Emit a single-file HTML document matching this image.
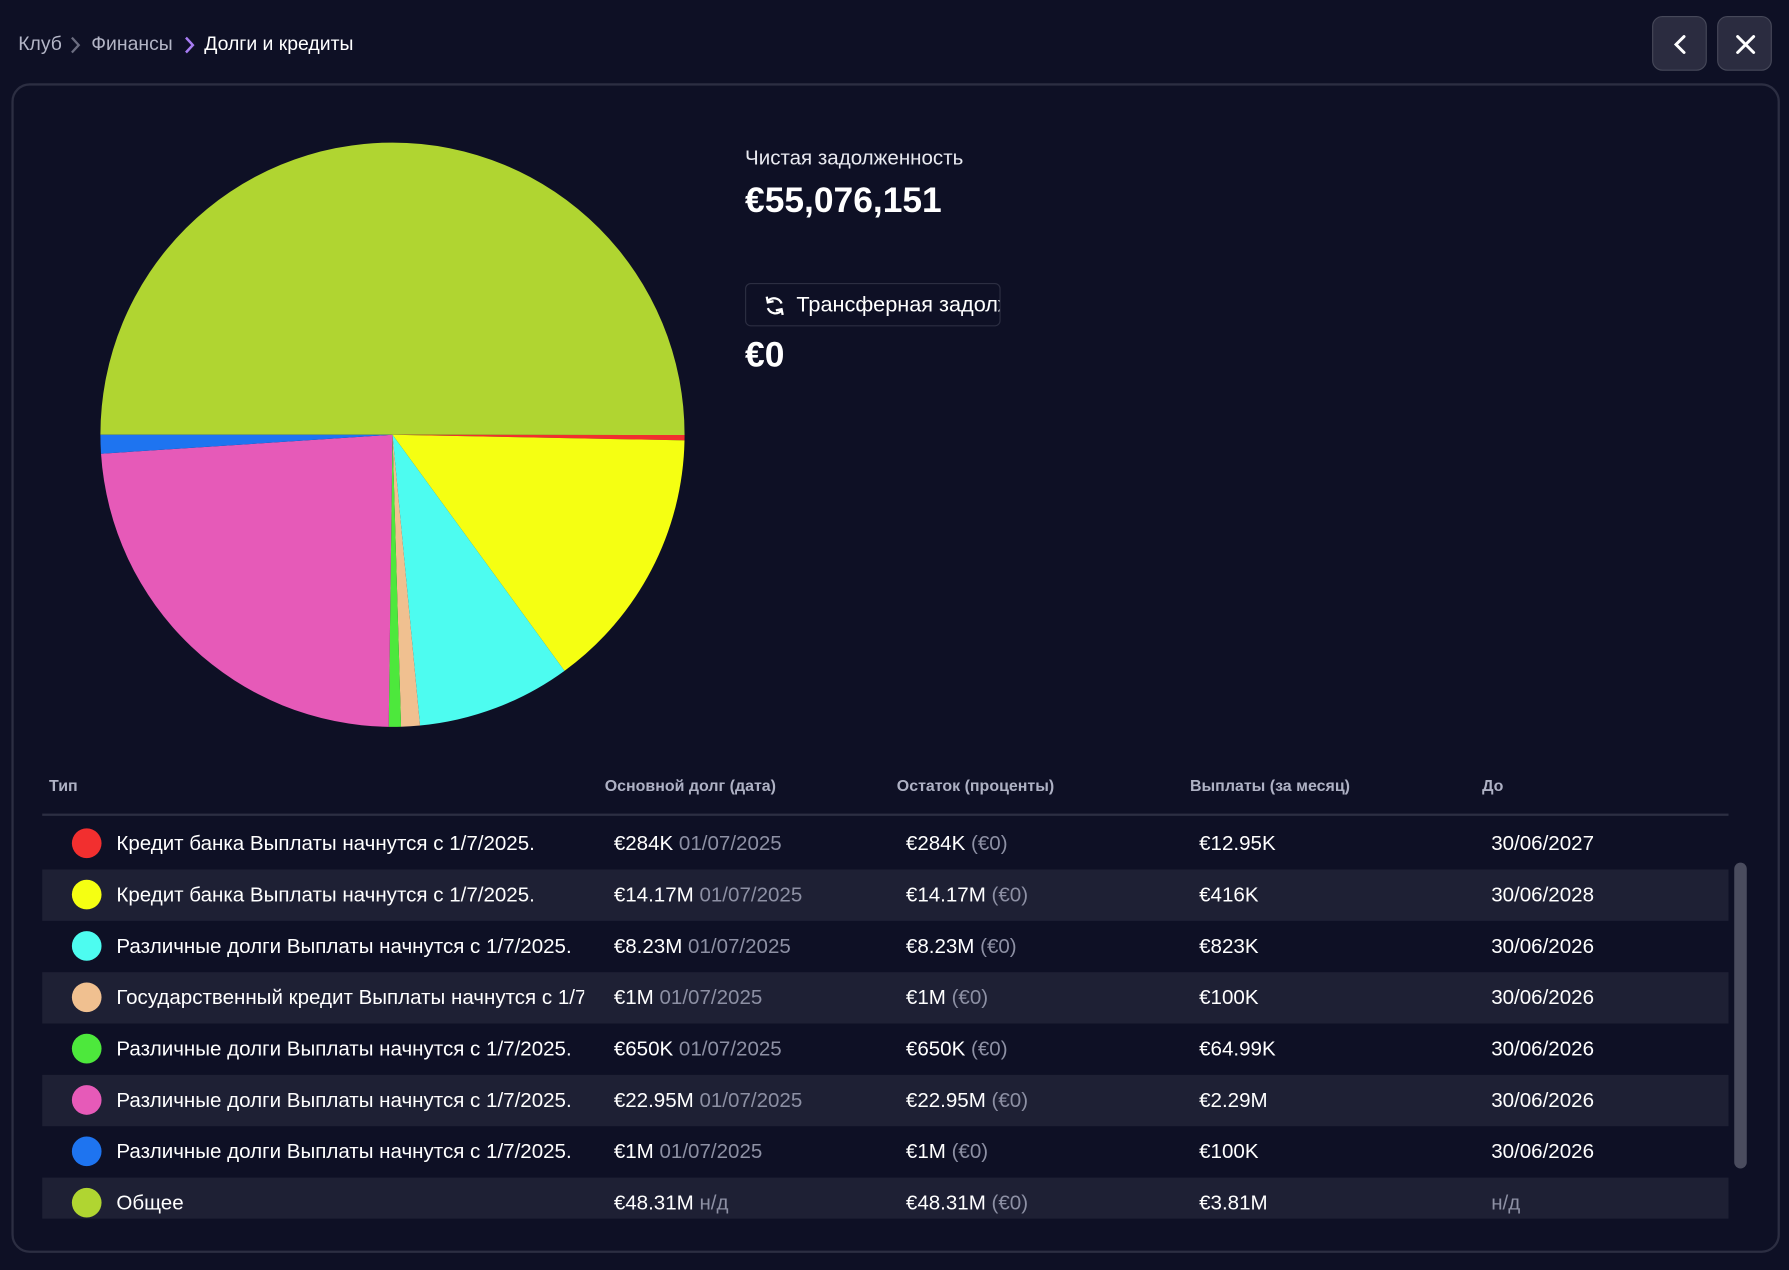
<!DOCTYPE html>
<html><head><meta charset="utf-8">
<style>
html,body{margin:0;padding:0;background:#0e1025;overflow:hidden;width:1789px;height:1270px;}
#root{position:absolute;left:0;top:0;width:1568px;height:1113px;transform-origin:0 0;transform:scale(1.14094,1.14106);font-family:"Liberation Sans","Noto Sans CJK SC",sans-serif;color:#fff;}
.abs{position:absolute;white-space:nowrap;}
.crumb{top:29px;font-size:17px;}
.btn{position:absolute;top:14px;width:48px;height:48px;border:1px solid #464859;border-radius:9px;background:#2b2c40;box-sizing:border-box;}
#panel{position:absolute;left:10px;top:73px;width:1550px;height:1025px;border:2px solid #2c2e42;border-radius:16px;box-sizing:border-box;background:#0e1025;overflow:hidden;}
.th{top:680px;font-size:14px;font-weight:bold;color:#aeb1c4;}
.row{position:absolute;left:37px;width:1478px;height:45px;}
.cell{position:absolute;font-size:18px;top:12px;white-space:nowrap;color:#fff;}
.sub{color:#8d90a4;}
.dot{position:absolute;left:26px;top:9px;width:26px;height:26px;border-radius:50%;}
</style></head><body>
<div id="root">
<div class="abs crumb" style="left:16px;color:#b3b5c6">Клуб</div>
<svg class="abs" style="left:61px;top:31px" width="10" height="17"><path d="M2 2 L8 8.5 L2 15" stroke="#6b6d80" stroke-width="2" fill="none"/></svg>
<div class="abs crumb" style="left:80px;color:#b3b5c6">Финансы</div>
<svg class="abs" style="left:161px;top:31px" width="10" height="17"><path d="M2 2 L8 8.5 L2 15" stroke="#a77cf2" stroke-width="2.2" fill="none"/></svg>
<div class="abs crumb" style="left:179px;color:#fff">Долги и кредиты</div>
<div class="btn" style="left:1448px"><svg width="48" height="48"><path d="M27 17 L20 24 L27 31" stroke="#fff" stroke-width="2.6" fill="none" stroke-linecap="round"/></svg></div>
<div class="btn" style="left:1505px"><svg width="48" height="48"><path d="M17 17 L31 31 M31 17 L17 31" stroke="#fff" stroke-width="2.6" stroke-linecap="round"/></svg></div>

<div id="panel"></div>

<svg id="pie" class="abs" style="left:0;top:0" width="700" height="660"></svg>

<div class="abs" style="left:653px;top:128px;font-size:18px;color:#e8e9f0">Чистая задолженность</div>
<div class="abs" style="left:653px;top:158px;font-size:31px;font-weight:bold">€55,076,151</div>
<div class="abs" style="left:653px;top:248px;width:224px;height:38px;border:1px solid #2c2e42;border-radius:5px;box-sizing:border-box;overflow:hidden">
<svg class="abs" style="left:15px;top:9px" width="20" height="20"><path d="M16 8 A7 7 0 0 0 4 6 M4 12 A7 7 0 0 0 16 14" stroke="#fff" stroke-width="2" fill="none"/><path d="M3 2 L4 7 L9 6" stroke="#fff" stroke-width="2" fill="none"/><path d="M17 18 L16 13 L11 14" stroke="#fff" stroke-width="2" fill="none"/></svg>
<div class="abs" style="left:44px;top:8px;font-size:19px">Трансферная задолженность</div></div>
<div class="abs" style="left:653px;top:293px;font-size:31px;font-weight:bold">€0</div>

<div class="abs th" style="left:43px">Тип</div>
<div class="abs th" style="left:530px">Основной долг (дата)</div>
<div class="abs th" style="left:786px">Остаток (проценты)</div>
<div class="abs th" style="left:1043px">Выплаты (за месяц)</div>
<div class="abs th" style="left:1299px">До</div>
<div class="abs" style="left:37px;top:713px;width:1478px;height:2px;background:#2c2e42"></div>
<div id="rows" class="abs" style="left:0;top:0;width:1568px;height:1068px;overflow:hidden"></div>
<div class="abs" style="left:1520px;top:756px;width:11px;height:268px;border-radius:6px;background:#4a4c5e"></div>
</div>
<script>
const categories=["Кредит банка Выплаты начнутся с 1/7/2025.","Кредит банка Выплаты начнутся с 1/7/2025.","Различные долги Выплаты начнутся с 1/7/2025.","Государственный кредит Выплаты начнутся с 1/7/2025.","Различные долги Выплаты начнутся с 1/7/2025.","Различные долги Выплаты начнутся с 1/7/2025.","Различные долги Выплаты начнутся с 1/7/2025.","Общее"];
const values=[0.284,14.17,8.23,1,0.65,22.95,1,48.31];
const colors=["#f22f2f","#f5ff12","#4dfcf0","#f0c090","#4de83c","#e65ab8","#1e74f0","#b0d531"];
const principal=["€284K","€14.17M","€8.23M","€1M","€650K","€22.95M","€1M","€48.31M"];
const startDates=["01/07/2025","01/07/2025","01/07/2025","01/07/2025","01/07/2025","01/07/2025","01/07/2025","н/д"];
const remaining=["€284K","€14.17M","€8.23M","€1M","€650K","€22.95M","€1M","€48.31M"];
const payments=["€12.95K","€416K","€823K","€100K","€64.99K","€2.29M","€100K","€3.81M"];
const untilDates=["30/06/2027","30/06/2028","30/06/2026","30/06/2026","30/06/2026","30/06/2026","30/06/2026","н/д"];

const NS="http://www.w3.org/2000/svg";
const pie=document.getElementById('pie');
const cx=344,cy=381,R=256;
// order: general (top half) first, starting at 9 o'clock, clockwise
const order=[7,0,1,2,3,4,5,6];
const total=order.reduce((s,i)=>s+values[i],0);
let a=Math.PI;
order.forEach(i=>{
  const sweep=values[i]/total*2*Math.PI;
  const a2=a+sweep;
  const x1=cx+R*Math.cos(a),y1=cy+R*Math.sin(a),x2=cx+R*Math.cos(a2),y2=cy+R*Math.sin(a2);
  const p=document.createElementNS(NS,'path');
  p.setAttribute('d',`M${cx} ${cy} L${x1} ${y1} A${R} ${R} 0 ${sweep>Math.PI?1:0} 1 ${x2} ${y2} Z`);
  p.setAttribute('fill',colors[i]);
  
  
  pie.appendChild(p);
  a=a2;
});

const rows=document.getElementById('rows');
categories.forEach((c,i)=>{
  const r=document.createElement('div');
  r.className='row';
  r.style.top=(717+i*45)+'px';
  if(i%2===1) r.style.background='#1e2034';
  
  
  const nm=c.length>46?c:c;
  r.innerHTML=`<div class="dot" style="background:${colors[i]}"></div>
  <div class="cell" style="left:65px;width:410px;overflow:hidden">${nm}</div>
  <div class="cell" style="left:501px">${principal[i]} <span class="sub">${startDates[i]}</span></div>
  <div class="cell" style="left:757px">${remaining[i]} <span class="sub">(€0)</span></div>
  <div class="cell" style="left:1014px">${payments[i]}</div>
  <div class="cell ${untilDates[i]==='н/д'?'sub':''}" style="left:1270px">${untilDates[i]}</div>`;
  rows.appendChild(r);
});
</script>
</body></html>
